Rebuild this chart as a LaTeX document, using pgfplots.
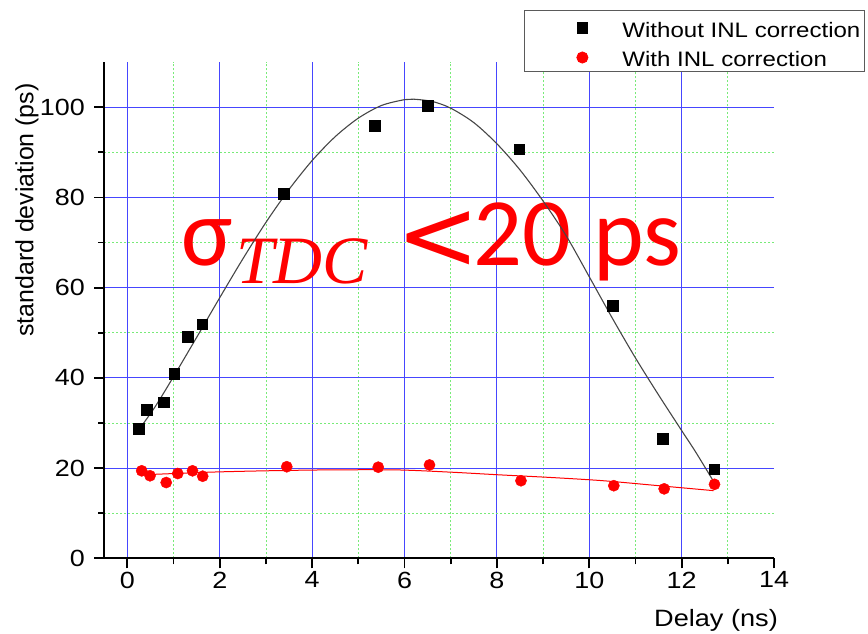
\documentclass[border=0pt]{standalone}
\usepackage{pgfplots}
\pgfplotsset{compat=1.18}
\usepackage{fontspec}
\setmainfont[FakeStretch=1.15]{Liberation Sans}
\newfontfamily\plainsans{Liberation Sans}
\newfontfamily\carlito{Carlito}
\newfontfamily\tnr{Liberation Serif}
\newfontfamily\djv{DejaVu Sans}
\definecolor{gridblue}{RGB}{70,70,255}
\definecolor{gridgreen}{RGB}{120,235,120}
\definecolor{fitgray}{RGB}{70,70,70}
\definecolor{legframe}{RGB}{90,90,90}
\begin{document}
\begin{tikzpicture}
\path[use as bounding box] (-104.3bp,-75.7bp) rectangle (763.7bp,558.3bp);
\begin{axis}[
  scale only axis, width=669.8bp, height=496.1bp,
  xmin=-0.5, xmax=14, ymin=0, ymax=110,
  axis lines=left, axis line style={line width=1.8bp, -},
  xtick={0,2,...,12}, extra x ticks={14}, extra x tick style={grid=none},
  ytick={0,20,...,100},
  minor xtick={1,3,...,13}, minor ytick={10,30,...,90},
  tick align=outside, major tick length=10bp, minor tick length=6bp,
  every tick/.style={line width=1.8bp, black},
  grid=both,
  major grid style={gridblue, line width=1bp},
  minor grid style={gridgreen, dash pattern=on 2bp off 2bp, line width=0.9bp},
  /pgf/number format/assume math mode=true,
  tick label style={font=\fontsize{23.5}{23.5}\selectfont},
  yticklabel shift=6bp,
  xlabel={Delay (ns)}, ylabel={standard deviation (ps)},
  xlabel style={font=\fontsize{23.7}{24}\selectfont, at={(axis description cs:0.9133,-0.1379)}, anchor=base},
  ylabel style={font=\plainsans\fontsize{25}{25}\selectfont, at={(axis description cs:-0.1154,0.702)}, anchor=center},
  legend style={at={(axis description cs:0.6266,1.105)}, anchor=north west,
    draw=legframe, line width=0.8bp, inner xsep=4bp, inner ysep=2.5bp,
    row sep=3.5bp, column sep=0pt,
    nodes={inner sep=0pt, text height=24bp, text depth=2bp},
    font=\fontsize{21}{22}\selectfont},
  legend cell align=left,
  legend image code/.code={\path[draw=none, fill=none] (0bp,0bp) -- (94bp,0bp); \draw[#1] plot coordinates {(54bp,-2bp)};},
]
\node[red, anchor=base west, inner sep=0pt, font=\carlito\fontsize{97}{97}\selectfont] at (axis cs:1.160,65.03) {σ};
\node[red, anchor=base west, inner sep=0pt, font=\tnr\itshape\fontsize{68}{68}\selectfont] at (axis cs:2.351,61.04) {TDC};
\node[red, anchor=base west, inner sep=0pt, font=\djv\fontsize{100}{100}\selectfont] at (axis cs:5.815,63.93) {<};
\node[red, anchor=base west, inner sep=0pt, font=\carlito\fontsize{97}{97}\selectfont] at (axis cs:7.482,65.03) {20 ps};

\addplot[fitgray, line width=1.1bp, smooth, forget plot] coordinates {
(0.24,28.4) (0.6,33.6) (1.0,40.3) (1.5,49.0) (2.0,57.8) (2.5,66.4) (3.0,74.5)
(3.5,81.8) (4.0,88.2) (4.5,93.5) (5.0,97.6) (5.5,100.4) (6.0,101.7) (6.19,101.8)
(6.6,101.3) (7.0,99.8) (7.5,96.6) (8.0,91.9) (8.5,86.1) (9.0,79.2) (9.5,71.5)
(10.0,62.4) (10.5,53.2) (11.0,44.4) (11.5,36.2) (12.0,28.3) (12.3,23.6) (12.68,17.2)};
\addplot[red, line width=1bp, smooth, forget plot] coordinates {
(0.3,18.5) (1.79,19.1) (3.0,19.4) (4.33,19.6) (5.82,19.6) (7.0,19.1) (8.06,18.5)
(9.2,17.9) (10.30,17.2) (11.5,16.1) (12.69,15.0)};

\addplot[only marks, mark=square*, mark size=5.3bp, black] coordinates {
(0.24,28.8) (0.42,33.0) (0.79,34.6) (1.01,40.9) (1.31,49.1) (1.62,51.9) (3.38,80.8)
(5.35,95.9) (6.50,100.4) (8.48,90.7) (10.50,56.0) (11.59,26.5) (12.70,19.8)};
\addlegendentry{Without INL correction\hspace{3.5bp}}
\addplot[only marks, mark=*, mark size=5.6bp, red] coordinates {
(0.31,19.4) (0.49,18.3) (0.84,16.8) (1.09,18.8) (1.41,19.4) (1.63,18.2) (3.45,20.3)
(5.43,20.2) (6.54,20.7) (8.52,17.2) (10.53,16.1) (11.62,15.4) (12.71,16.4)};
\addlegendentry{With INL correction}
\end{axis}
\end{tikzpicture}
\end{document}
